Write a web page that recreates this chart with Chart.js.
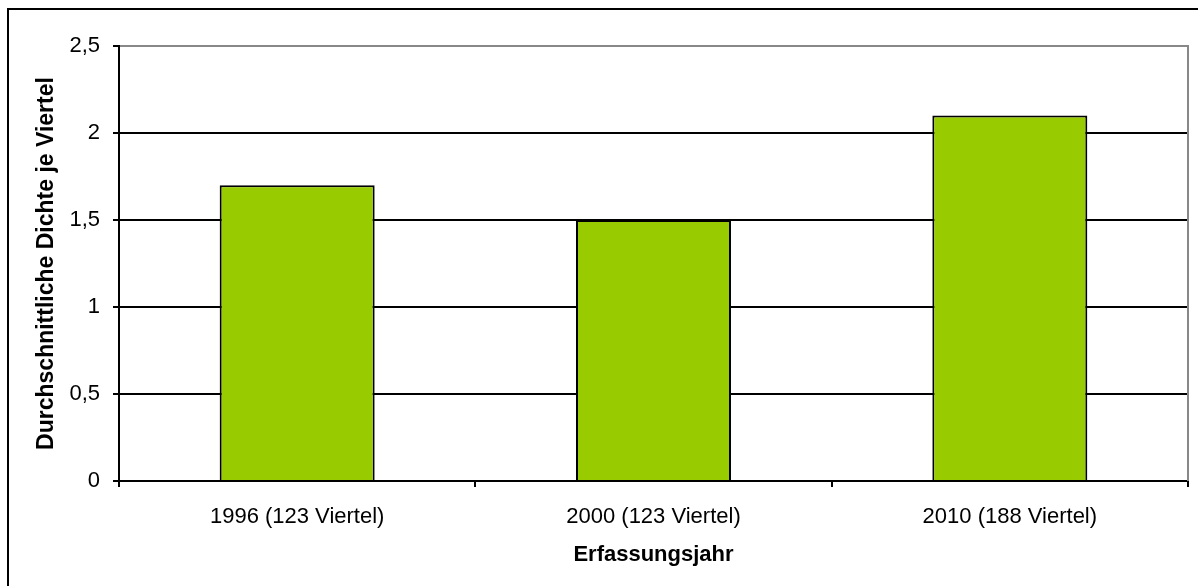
<!DOCTYPE html>
<html>
<head>
<meta charset="utf-8">
<script src="https://cdn.jsdelivr.net/npm/chart.js@4/dist/chart.umd.min.js"></script>
<style>
  html, body { margin: 0; padding: 0; background: #fff; }
  #chart { display: block; }
</style>
</head>
<body>
<canvas id="chart" width="1198" height="586"></canvas>
<script>
const categories = ['1996 (123 Viertel)', '2000 (123 Viertel)', '2010 (188 Viertel)'];
const density = [1.7, 1.5, 2.1];
const yTicks = [0, 0.5, 1, 1.5, 2, 2.5];

const FONT = "'Liberation Sans', Arial, sans-serif";

// outer frame + gray plot border on the right
const framePlugin = {
  id: 'frame',
  afterDraw(chart) {
    const ctx = chart.ctx;
    const a = chart.chartArea;
    ctx.save();
    ctx.fillStyle = '#000';
    ctx.fillRect(7, 8, 2, 586);
    ctx.fillRect(7, 8, 1198, 2);
    ctx.strokeStyle = '#888';
    ctx.lineWidth = 2;
    ctx.beginPath();
    ctx.moveTo(a.right, a.top - 1);
    ctx.lineTo(a.right, a.bottom);
    ctx.stroke();
    ctx.restore();
  }
};

new Chart(document.getElementById('chart').getContext('2d'), {
  type: 'bar',
  data: {
    labels: categories,
    datasets: [{
      data: density,
      backgroundColor: '#99CC00',
      borderColor: '#000',
      borderWidth: 2,
      barPercentage: 0.435,
      categoryPercentage: 1
    }]
  },
  options: {
    responsive: false,
    animation: false,
    layout: { padding: { left: 0, top: 46, right: 10, bottom: 0 } },
    plugins: {
      legend: { display: false },
      tooltip: { enabled: false }
    },
    scales: {
      x: {
        afterFit: s => { s.height = 105; },
        grid: { drawOnChartArea: false, color: '#000', lineWidth: 2, tickLength: 6 },
        border: { color: '#000', width: 2 },
        ticks: { color: '#000', font: { family: FONT, size: 22 }, padding: 17 },
        title: {
          display: true,
          text: 'Erfassungsjahr',
          color: '#000',
          font: { family: FONT, size: 22, weight: 'bold' },
          padding: { top: 0, bottom: 18 }
        }
      },
      y: {
        min: 0,
        max: 2.5,
        afterFit: s => { s.width = 119; },
        afterBuildTicks: s => { s.ticks = yTicks.map(v => ({ value: v })); },
        grid: {
          color: c => (c.tick && c.tick.value === 2.5 ? '#888' : '#000'),
          tickColor: '#000',
          lineWidth: 2,
          tickLength: 6
        },
        border: { color: '#000', width: 2 },
        ticks: {
          color: '#000',
          font: { family: FONT, size: 22 },
          padding: 13,
          callback: v => String(v).replace('.', ',')
        },
        title: {
          display: true,
          text: 'Durchschnittliche Dichte je Viertel',
          color: '#000',
          font: { family: FONT, size: 23, weight: 'bold' },
          padding: { top: 33, bottom: 0 }
        }
      }
    }
  },
  plugins: [framePlugin]
});
</script>
</body>
</html>
